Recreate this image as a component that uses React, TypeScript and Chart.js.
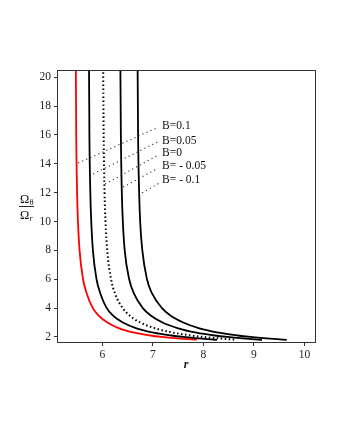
import { useEffect, useRef } from "react";
import { Chart, registerables } from "chart.js";

Chart.register(...registerables);

const xTicks = [6, 7, 8, 9, 10];
const yTicks = [2, 4, 6, 8, 10, 12, 14, 16, 18, 20];

const seriesNames = ["B=0.1", "B=0.05", "B=0", "B= - 0.05", "B= - 0.1"];

// B = 0.1 (red)
const rB010 = [5.471, 5.481, 5.498, 5.515, 5.547, 5.616, 5.69, 5.81, 5.92, 6.1, 6.33, 6.63, 6.95, 7.17, 7.48, 7.82, 7.87];
const wB010 = [22, 16, 12, 10, 8, 6, 5, 4, 3.5, 3, 2.6, 2.3, 2.1, 2.0, 1.9, 1.82, 1.81];
// B = 0.05
const rB005 = [5.732, 5.742, 5.76, 5.778, 5.811, 5.883, 5.96, 6.085, 6.205, 6.405, 6.675, 7.01, 7.36, 7.6, 7.9, 8.2, 8.27];
const wB005 = [22, 16, 12, 10, 8, 6, 5, 4, 3.5, 3, 2.6, 2.3, 2.1, 2.0, 1.9, 1.82, 1.8];
// B = 0 (dotted)
const rB000 = [6.012, 6.024, 6.042, 6.061, 6.095, 6.171, 6.25, 6.4, 6.533, 6.75, 7.042, 7.399, 7.76, 8.0, 8.299, 8.595, 8.63];
const wB000 = [22, 16, 12, 10, 8, 6, 5, 4, 3.5, 3, 2.6, 2.3, 2.1, 2.0, 1.9, 1.82, 1.81];
// B = -0.05
const rBm005 = [6.353, 6.365, 6.384, 6.404, 6.441, 6.53, 6.625, 6.8, 6.95, 7.19, 7.5, 7.86, 8.22, 8.47, 8.78, 9.08, 9.16];
const wBm005 = [22, 16, 12, 10, 8, 6, 5, 4, 3.5, 3, 2.6, 2.3, 2.1, 2.0, 1.9, 1.82, 1.8];
// B = -0.1
const rBm010 = [6.694, 6.706, 6.727, 6.747, 6.79, 6.882, 6.985, 7.18, 7.34, 7.6, 7.92, 8.3, 8.68, 8.93, 9.25, 9.57, 9.65];
const wBm010 = [22, 16, 12, 10, 8, 6, 5, 4, 3.5, 3, 2.6, 2.3, 2.1, 2.0, 1.9, 1.82, 1.8];

// pointer lines (start near curve, end near label), data coordinates
const pointerX0 = [5.519, 5.816, 6.053, 6.41, 6.786];
const pointerY0 = [14.05, 13.29, 12.6, 12.39, 11.98];
const pointerX1 = [7.103, 7.103, 7.103, 7.103, 7.143];
const pointerY1 = [16.53, 15.53, 14.6, 13.7, 12.7];
// label anchor (left, middle)
const labelX = [7.182, 7.182, 7.182, 7.182, 7.182];
const labelY = [16.6, 15.61, 14.76, 13.84, 12.86];

const SERIF = "'Liberation Serif', 'DejaVu Serif', serif";

function pts(xs: number[], ys: number[]) {
  return xs.map((x, i) => ({ x, y: ys[i] }));
}

export default function App() {
  const ref = useRef<HTMLCanvasElement | null>(null);

  useEffect(() => {
    document.body.style.margin = "0";
    const canvas = ref.current;
    if (!canvas) return;

    const curveBase = {
      pointRadius: 0,
      borderWidth: 1.8,
      fill: false,
      cubicInterpolationMode: "monotone" as const,
    };

    const pointerSets = seriesNames.map((_, i) => ({
      data: [
        { x: pointerX0[i], y: pointerY0[i] },
        { x: pointerX1[i], y: pointerY1[i] },
      ],
      borderColor: "#333",
      borderWidth: 1.1,
      borderDash: [1.2, 3.2],
      pointRadius: 0,
      fill: false,
    }));

    const framePlugin = {
      id: "frameAndTitles",
      afterDraw(chart: any) {
        const { ctx, chartArea } = chart;
        const xs = chart.scales.x;
        const ys = chart.scales.y;
        ctx.save();
        ctx.strokeStyle = "#333";
        ctx.lineWidth = 1;
        ctx.strokeRect(chartArea.left + 0.5, chartArea.top + 0.5, chartArea.right - chartArea.left, chartArea.bottom - chartArea.top);

        // series labels
        ctx.fillStyle = "#111";
        ctx.font = `11.5px ${SERIF}`;
        ctx.textAlign = "left";
        ctx.textBaseline = "middle";
        seriesNames.forEach((s, i) => {
          ctx.fillText(s, xs.getPixelForValue(labelX[i]), ys.getPixelForValue(labelY[i]));
        });

        // y title: fraction
        const cx = 27;
        const cy = (chartArea.top + chartArea.bottom) / 2;
        ctx.textBaseline = "alphabetic";
        ctx.font = `12.5px ${SERIF}`;
        ctx.textAlign = "left";
        ctx.fillText("Ω", cx - 7, cy - 3.5);
        ctx.font = `8.5px ${SERIF}`;
        ctx.fillText("θ", cx + 2.5, cy - 1.5);
        ctx.beginPath();
        ctx.moveTo(cx - 8, cy + 0.5);
        ctx.lineTo(cx + 7, cy + 0.5);
        ctx.strokeStyle = "#111";
        ctx.lineWidth = 0.9;
        ctx.stroke();
        ctx.font = `12.5px ${SERIF}`;
        ctx.fillText("Ω", cx - 7, cy + 13);
        ctx.font = `italic 8.5px ${SERIF}`;
        ctx.fillText("r", cx + 2.5, cy + 15);

        // x title
        ctx.font = `italic bold 12px ${SERIF}`;
        ctx.textAlign = "center";
        ctx.fillText("r", (chartArea.left + chartArea.right) / 2, chartArea.bottom + 26);
        ctx.restore();
      },
    };

    const chart = new Chart(canvas, {
      type: "line",
      data: {
        datasets: [
          ...pointerSets,
          { ...curveBase, data: pts(rBm010, wBm010), borderColor: "#000" },
          { ...curveBase, data: pts(rBm005, wBm005), borderColor: "#000" },
          { ...curveBase, data: pts(rB000, wB000), borderColor: "#000", borderWidth: 2, borderDash: [1.5, 2.5] },
          { ...curveBase, data: pts(rB005, wB005), borderColor: "#000" },
          { ...curveBase, data: pts(rB010, wB010), borderColor: "#ff0000" },
        ] as any,
      },
      options: {
        animation: false,
        responsive: false,
        parsing: false as any,
        layout: { padding: { top: 70, right: 25, bottom: 0, left: 0 } },
        plugins: { legend: { display: false }, tooltip: { enabled: false } },
        scales: {
          x: {
            type: "linear",
            min: 5.1,
            max: 10.21,
            afterFit(scale: any) {
              scale.height = 98;
            },
            afterBuildTicks(scale: any) {
              scale.ticks = xTicks.map((v) => ({ value: v }));
            },
            grid: { display: true, drawOnChartArea: false, drawTicks: true, tickLength: 4, color: "#333" },
            border: { display: true, color: "#333" },
            ticks: { color: "#222", font: { family: SERIF, size: 11.5 }, padding: 2, maxRotation: 0 },
          },
          y: {
            type: "linear",
            min: 1.65,
            max: 20.5,
            afterFit(scale: any) {
              scale.width = 57;
            },
            afterBuildTicks(scale: any) {
              scale.ticks = yTicks.map((v) => ({ value: v }));
            },
            grid: { display: true, drawOnChartArea: false, drawTicks: true, tickLength: 3, color: "#333" },
            border: { display: true, color: "#333" },
            ticks: { color: "#222", font: { family: SERIF, size: 11.5 }, padding: 3 },
          },
        },
      },
      plugins: [framePlugin],
    });

    return () => chart.destroy();
  }, []);

  return (
    <div style={{ width: 340, height: 440 }}>
      <canvas ref={ref} width={340} height={440} style={{ display: "block", width: 340, height: 440 }} />
    </div>
  );
}
